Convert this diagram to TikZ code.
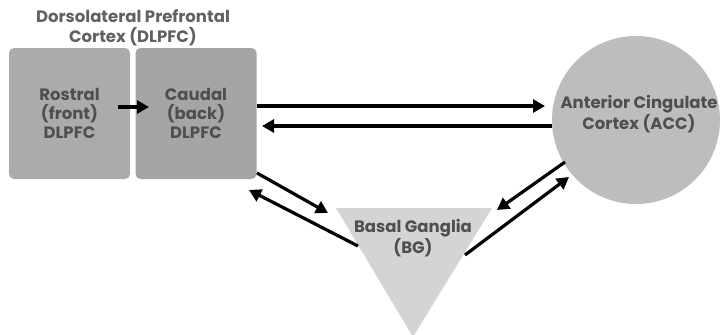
\documentclass[tikz,border=0pt]{standalone}
\usepackage{fontspec}
\setmainfont{Poppins}
\usetikzlibrary{arrows.meta}
\definecolor{rostralgray}{HTML}{ABABAB}
\definecolor{caudalgray}{HTML}{A5A5A5}
\definecolor{accgray}{HTML}{BDBDBD}
\definecolor{bggray}{HTML}{D4D4D4}
\definecolor{labelgray}{HTML}{4F4F4F}
\tikzset{
  region/.style={draw=none, rounded corners=5pt, minimum width=121pt, minimum height=131pt,
    inner sep=0pt, align=center, text=labelgray, font=\fontsize{16.5}{18.8}\selectfont\bfseries},
  lbl/.style={align=center, text=labelgray, inner sep=0pt, font=\fontsize{16.5}{19.5}\selectfont\bfseries},
  link/.style={line width=3.2pt, -{Triangle[length=12pt,width=13pt]}}
}
\begin{document}
\begin{tikzpicture}[x=1pt,y=-1pt]
\useasboundingbox (0,0) rectangle (721,335);
% DLPFC subdivisions
\node[region, fill=rostralgray] (rostral) at (69.5,113.5) {Rostral\\(front)\\DLPFC};
\node[region, fill=caudalgray] (caudal) at (196,113.5) {Caudal\\(back)\\DLPFC};
\node[lbl, text=labelgray!90] (dlpfc) at (133,28) {Dorsolateral Prefrontal\\Cortex (DLPFC)};
% anterior cingulate
\node[circle, fill=accgray, minimum size=168pt, inner sep=0pt] (acc) at (636,120) {};
\node[lbl] (acctext) at (639,114) {Anterior Cingulate\\Cortex (ACC)};
% basal ganglia
\coordinate (bgL) at (336,208);
\coordinate (bgR) at (492,208);
\coordinate (bgB) at (413,337);
\fill[bggray] (bgL) -- (bgR) -- (bgB) -- cycle;
\node[lbl] (bg) at (413,238) {Basal Ganglia\\(BG)};
% connector end points
\coordinate (rc1) at (118,107);
\coordinate (rc2) at (149,107);
\coordinate (ca1) at (257,106);
\coordinate (ca2) at (545,106);
\coordinate (ac1) at (552,126);
\coordinate (ac2) at (262,126);
\coordinate (cb1) at (257,173);
\coordinate (cb2) at (328,213);
\coordinate (bc1) at (358,246);
\coordinate (bc2) at (249,190);
\coordinate (ab1) at (565,162);
\coordinate (ab2) at (497,210);
\coordinate (ba1) at (465,255);
\coordinate (ba2) at (569,177);
% connectors
\draw[link] (rc1) -- (rc2);
\draw[link] (ca1) -- (ca2);
\draw[link] (ac1) -- (ac2);
\draw[link] (cb1) -- (cb2);
\draw[link] (bc1) -- (bc2);
\draw[link] (ab1) -- (ab2);
\draw[link] (ba1) -- (ba2);
\end{tikzpicture}
\end{document}
